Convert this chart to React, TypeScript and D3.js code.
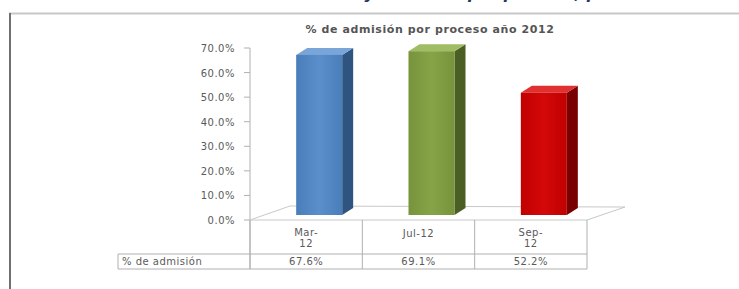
import React from "react";
import * as d3 from "d3";

const categories = ["Mar-12", "Jul-12", "Sep-12"];
const categoryLines = [["Mar-", "12"], ["Jul-12"], ["Sep-", "12"]];
const values = [67.6, 69.1, 52.2];
const seriesName = "% de admisión";
const yTicks = [0, 10, 20, 30, 40, 50, 60, 70];
const chartTitle = "% de admisión por proceso año 2012";
const pageHeading = "Postulantes y admisión por proceso, período 2012";

const colors = [
  { front: "#4a7ebb", light: "#5b8fcc", side: "#2f5480", top: "#7aa5d8" },
  { front: "#77933c", light: "#86a447", side: "#4b5f25", top: "#a0bd63" },
  { front: "#c00000", light: "#d40808", side: "#780000", top: "#e03030" },
];

export default function App() {
  const W = 739;
  const H = 289;
  const left = 250;
  const right = 587;
  const depthX = 11;
  const depthY = -7;

  const x = d3.scaleBand().domain(categories).range([left, right]);
  const y = d3.scaleLinear().domain([0, 70]).range([220, 48]);
  const barW = 46;
  const fmt = (v: number) => v.toFixed(1) + "%";

  const rowTop = y(0);
  const rowMid = 254;
  const rowBot = 269;
  const gridColor = "#b0b0b0";
  const textColor = "#5a5a5a";

  return (
    <svg
      width={W}
      height={H}
      style={{ position: "absolute", left: 0, top: 0, background: "#fff" }}
      fontFamily="'DejaVu Sans', Verdana, sans-serif"
    >
      <defs>
        {colors.map((c, i) => (
          <linearGradient key={i} id={"g" + i} x1="0" x2="1" y1="0" y2="0">
            <stop offset="0" stopColor={c.front} />
            <stop offset="0.5" stopColor={c.light} />
            <stop offset="1" stopColor={c.front} />
          </linearGradient>
        ))}
      </defs>

      {/* heading cut at page top, only descenders show */}
      <text
        x={252}
        y={-1.5}
        fontSize={16}
        fontStyle="italic"
        fontWeight="bold"
        fill="#1f3864"
      >
        {pageHeading}
      </text>

      {/* chart frame */}
      <line x1={9} x2={W} y1={13.5} y2={13.5} stroke="#c8c8c8" strokeWidth={2} />
      <line x1={10} x2={10} y1={13} y2={H} stroke="#707070" strokeWidth={2} />

      <text
        x={430}
        y={33}
        textAnchor="middle"
        fontSize={11}
        fontWeight="bold"
        fill="#555"
        letterSpacing={0.6}
      >
        {chartTitle}
      </text>

      {/* y axis */}
      <line x1={left} x2={left} y1={y(70)} y2={rowBot} stroke={gridColor} />
      {yTicks.map((t) => (
        <g key={t}>
          <line x1={left - 6} x2={left} y1={y(t)} y2={y(t)} stroke={gridColor} />
          <text
            x={left - 15}
            y={y(t) + 4}
            textAnchor="end"
            fontSize={10}
            fill={textColor}
            letterSpacing={0.5}
          >
            {fmt(t)}
          </text>
        </g>
      ))}

      {/* floor */}
      <polygon
        points={`${left},${y(0)} ${left + 40},${y(0) - 14} ${right + 38},${y(0) - 13} ${right},${y(0)}`}
        fill="#fff"
        stroke="#c8c8c8"
      />

      {/* bars */}
      {values.map((v, i) => {
        const c = colors[i];
        const x0 = (x(categories[i]) as number) + x.bandwidth() / 2 - 10;
        const x1 = x0 + barW;
        const yt = y(v) + 1;
        const yb = y(0) - 5;
        return (
          <g key={categories[i]}>
            <polygon
              points={`${x1},${yt} ${x1 + depthX},${yt + depthY} ${x1 + depthX},${yb + depthY} ${x1},${yb}`}
              fill={c.side}
            />
            <polygon
              points={`${x0},${yt} ${x0 + depthX},${yt + depthY} ${x1 + depthX},${yt + depthY} ${x1},${yt}`}
              fill={c.top}
            />
            <rect x={x0} y={yt} width={barW} height={yb - yt} fill={`url(#g${i})`} />
          </g>
        );
      })}

      {/* data table */}
      {[left, ...categories.map((d) => (x(d) as number) + x.bandwidth())].map((lx, i) => (
        <line key={i} x1={lx} x2={lx} y1={rowTop} y2={rowBot} stroke={gridColor} />
      ))}
      <line x1={118} x2={right} y1={rowMid} y2={rowMid} stroke={gridColor} />
      <line x1={118} x2={right} y1={rowBot} y2={rowBot} stroke={gridColor} />
      <line x1={118} x2={118} y1={rowMid} y2={rowBot} stroke={gridColor} />

      {categoryLines.map((lines, i) => {
        const cx = (x(categories[i]) as number) + x.bandwidth() / 2;
        return (
          <text key={i} textAnchor="middle" fontSize={10} fill={textColor} letterSpacing={0.5}>
            {lines.map((l, j) => (
              <tspan key={j} x={cx} y={lines.length > 1 ? 236 + j * 11 : 237}>
                {l}
              </tspan>
            ))}
          </text>
        );
      })}

      <text x={122} y={265} fontSize={10} fill={textColor} letterSpacing={0.5}>
        {seriesName}
      </text>
      {values.map((v, i) => (
        <text
          key={i}
          x={(x(categories[i]) as number) + x.bandwidth() / 2}
          y={265}
          textAnchor="middle"
          fontSize={10}
          fill={textColor}
          letterSpacing={0.5}
        >
          {fmt(v)}
        </text>
      ))}
    </svg>
  );
}
